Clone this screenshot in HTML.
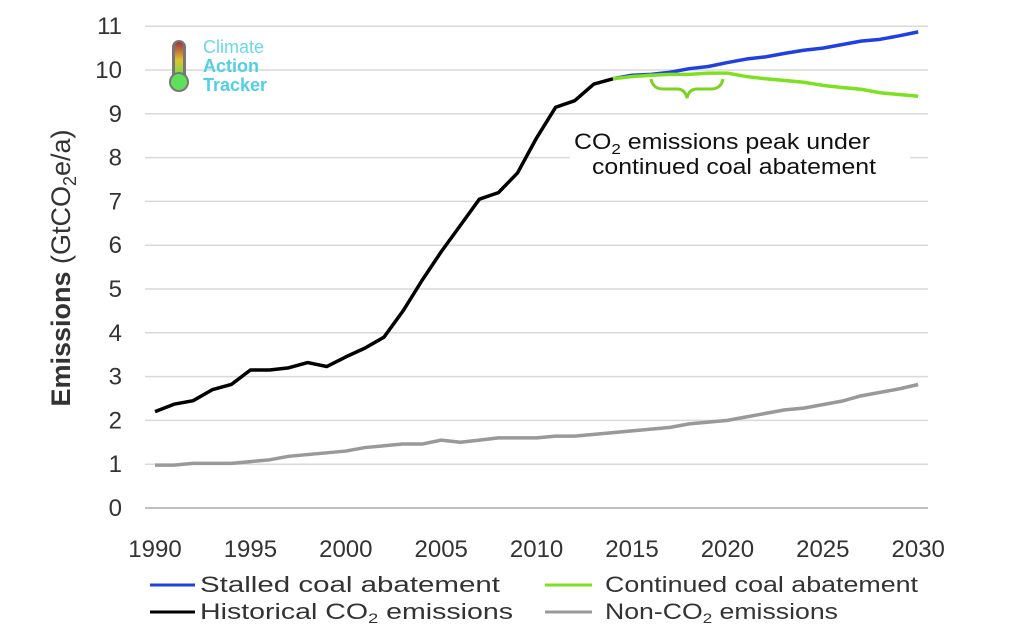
<!DOCTYPE html><html><head><style>body{margin:0;background:#fff}svg{font-family:"Liberation Sans",sans-serif}</style></head><body>
<svg id="s" width="1024" height="637" xmlns="http://www.w3.org/2000/svg">
<g id="grid" stroke="#d9d9d9" stroke-width="1.5"></g>
<line x1="145" y1="508" x2="928" y2="508" stroke="#bfbfbf" stroke-width="2"/>
<g id="yl" font-size="24" fill="#333" text-anchor="end"></g>
<g id="xl" font-size="24" fill="#333" text-anchor="middle"></g>
<text transform="translate(70,268) rotate(-90)" text-anchor="middle" font-size="27" fill="#333"><tspan font-weight="bold">Emissions</tspan> (GtCO<tspan font-size="18" dy="6">2</tspan><tspan dy="-6">e/a)</tspan></text>
<g id="lines" fill="none" stroke-width="3.5" stroke-linejoin="round"></g>
<rect x="570" y="128" width="340" height="60" fill="#fff"/>
<text x="574" y="149" font-size="22" fill="#111" textLength="296" lengthAdjust="spacingAndGlyphs">CO<tspan font-size="15" dy="5">2</tspan><tspan dy="-5"> emissions peak under</tspan></text>
<text x="592" y="174" font-size="22" fill="#111" textLength="284" lengthAdjust="spacingAndGlyphs">continued coal abatement</text>
<path d="M651,79 q2,10 12,10 h14 q8,0 10,9 q2,-9 10,-9 h14 q10,0 12,-10" fill="none" stroke="#7ed321" stroke-width="3"/>
<defs><linearGradient id="tg" x1="0" y1="0" x2="0" y2="1"><stop offset="0" stop-color="#a03040"/><stop offset=".5" stop-color="#e0c030"/><stop offset="1" stop-color="#5ee05a"/></linearGradient></defs>
<rect x="172" y="40" width="14" height="44" rx="7" fill="#777"/>
<rect x="175" y="42" width="8" height="36" rx="4" fill="url(#tg)"/>
<circle cx="179" cy="82" r="10" fill="#777"/><circle cx="179" cy="82" r="8" fill="#5ee05a"/>
<text x="203" y="53" font-size="18" fill="#6ad8e8">Climate</text>
<text x="203" y="72" font-size="18" fill="#4fd0e4" font-weight="bold">Action</text>
<text x="203" y="91" font-size="18" fill="#4fd0e4" font-weight="bold">Tracker</text>
<g font-size="22" fill="#333">
<line x1="150" y1="585" x2="195" y2="585" stroke="#2040e0" stroke-width="3"/><text x="200" y="592" textLength="300" lengthAdjust="spacingAndGlyphs">Stalled coal abatement</text>
<line x1="545" y1="585" x2="592" y2="585" stroke="#7ee020" stroke-width="3"/><text x="605" y="592" textLength="313" lengthAdjust="spacingAndGlyphs">Continued coal abatement</text>
<line x1="150" y1="612" x2="195" y2="612" stroke="#000" stroke-width="3"/><text x="200" y="619" textLength="313" lengthAdjust="spacingAndGlyphs">Historical CO<tspan font-size="14" dy="4">2</tspan><tspan dy="-4"> emissions</tspan></text>
<line x1="545" y1="612" x2="592" y2="612" stroke="#999" stroke-width="3"/><text x="605" y="619" textLength="233" lengthAdjust="spacingAndGlyphs">Non-CO<tspan font-size="14" dy="4">2</tspan><tspan dy="-4"> emissions</tspan></text>
</g>
</svg>
<script>
var N="http://www.w3.org/2000/svg";function el(p,t,a,tx){var e=document.createElementNS(N,t);for(var k in a)e.setAttribute(k,a[k]);if(tx!=null)e.textContent=tx;document.getElementById(p).appendChild(e);}
function Y(v){return 508-43.8*v}function X(y){return 155+19.08*(y-1990)}
for(var i=1;i<=11;i++)el("grid","line",{x1:145,x2:928,y1:Y(i),y2:Y(i)});
for(var i=0;i<=11;i++)el("yl","text",{x:122,y:Y(i)+8},i);
for(var y=1990;y<=2030;y+=5)el("xl","text",{x:X(y),y:557},y);
function L(s,c,d){el("lines","polyline",{stroke:c,points:d.map(function(v,i){return X(s+i)+","+Y(v)}).join(" ")});}
L(1990,"#999",[0.98,0.98,1.02,1.02,1.02,1.06,1.1,1.18,1.22,1.26,1.3,1.38,1.42,1.46,1.46,1.55,1.5,1.55,1.6,1.6,1.6,1.64,1.64,1.68,1.72,1.76,1.8,1.84,1.92,1.96,2.0,2.08,2.16,2.24,2.28,2.36,2.44,2.56,2.64,2.72,2.82]);
L(1990,"#000",[2.2,2.37,2.45,2.7,2.82,3.15,3.15,3.2,3.32,3.23,3.45,3.65,3.9,4.5,5.2,5.85,6.45,7.05,7.2,7.65,8.45,9.15,9.3,9.68,9.8]);
L(2014,"#2040e0",[9.8,9.88,9.9,9.95,10.03,10.08,10.17,10.25,10.3,10.38,10.45,10.5,10.58,10.66,10.7,10.78,10.87]);
L(2014,"#7ee020",[9.8,9.85,9.88,9.9,9.9,9.93,9.93,9.85,9.8,9.76,9.72,9.65,9.6,9.56,9.48,9.44,9.4]);
</script>
</body></html>
